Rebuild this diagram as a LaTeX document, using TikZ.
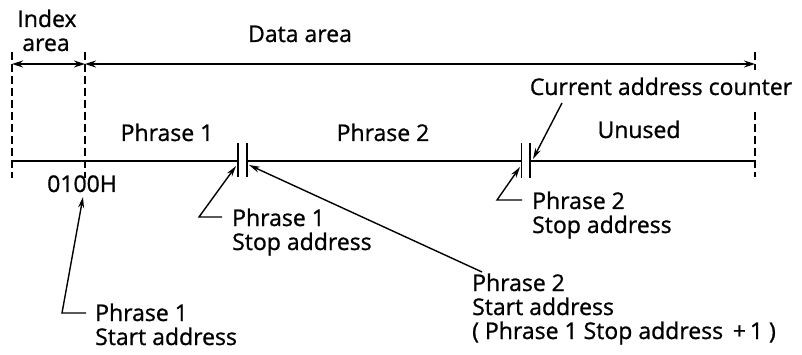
\documentclass[tikz,border=0pt]{standalone}
\usepackage{fontspec}
\setmainfont{Open Sans}[FakeBold=0.9]
\usetikzlibrary{arrows.meta}
\begin{document}
\begin{tikzpicture}[x=1pt,y=-1pt,
  lbl/.style={font=\fontsize{23}{24}\selectfont, inner sep=0pt, align=left},
  bound/.style={line width=1.8pt, dash pattern=on 8pt off 4pt},
  mainln/.style={line width=1.6pt},
  brk/.style={line width=1.8pt},
  dimarr/.style={line width=1.4pt, {Stealth[length=11pt,width=7pt]}-{Stealth[length=11pt,width=7pt]}},
  ptr/.style={line width=1.4pt, -{Stealth[length=11pt,width=6pt]}}
]
\useasboundingbox (0,0) rectangle (802,355);
% boundary dashed lines
\coordinate (b0t) at (12,52);  \coordinate (b0b) at (12,178);
\coordinate (b1t) at (85,52);  \coordinate (b1b) at (85,178);
\coordinate (b2t) at (755,52); \coordinate (b2m) at (755,70);
\coordinate (b2n) at (755,112); \coordinate (b2b) at (755,177);
\draw[bound] (b0t) -- (b0b);
\draw[bound] (b1t) -- (b1b);
\draw[bound] (b2t) -- (b2m);
\draw[bound] (b2n) -- (b2b);
% dimension arrows
\coordinate (d0) at (12,64); \coordinate (d1) at (85,64); \coordinate (d2) at (755,64);
\draw[dimarr] (d0) -- (d1);
\draw[dimarr] (d1) -- (d2);
% main line with breaks
\coordinate (m0) at (12,161);
\coordinate (k1a) at (238,161); \coordinate (k1b) at (247,161);
\coordinate (k2a) at (521.5,161); \coordinate (k2b) at (530,161);
\coordinate (m3) at (755,161);
\draw[mainln] (m0) -- (k1a);
\draw[mainln] (k1b) -- (k2a);
\draw[mainln] (k2b) -- (m3);
\draw[brk] (238,143) -- (238,177);
\draw[brk] (247,143) -- (247,177);
\draw[brk] (521.5,143) -- (521.5,178);
\draw[brk] (530,143) -- (530,178);
% labels
\node[lbl, anchor=base] (idx) at (47,27) {Index};
\node[lbl, anchor=base] (idxa) at (46,51) {area};
\node[lbl, anchor=base] (data) at (300,42) {Data area};
\node[lbl, anchor=base] (p1) at (167,141) {Phrase 1};
\node[lbl, anchor=base] (p2) at (383,141) {Phrase 2};
\node[lbl, anchor=base] (un) at (639,138) {Unused};
\node[lbl, anchor=base] (cac) at (661,95) {Current address counter};
\node[lbl, anchor=base] (addr) at (82,192) {0100H};
% multi-line labels: base anchor is the baseline of the last line
\node[lbl, anchor=base west] (p1start) at (95,345) {Phrase 1\\Start address};
\node[lbl, anchor=base west] (p1stop) at (232,250) {Phrase 1\\Stop address};
\node[lbl, anchor=base west] (p2stop) at (532,233) {Phrase 2\\Stop address};
\node[lbl, anchor=base west] (p2start) at (472,339) {Phrase 2\\Start address\\( Phrase 1 Stop address \,+\,1 )};
% pointers
\coordinate (t1) at (86,313); \coordinate (c1) at (62,313);
\draw[ptr] (t1) -- (c1) -- (83,197);
\coordinate (t2) at (222,217); \coordinate (c2) at (199,217);
\draw[ptr] (t2) -- (c2) -- (236,166);
\coordinate (c3) at (482,272);
\draw[ptr] (c3) -- (249,165);
\coordinate (t4) at (522,200); \coordinate (c4) at (497,200);
\draw[ptr] (t4) -- (c4) -- (520,167);
\coordinate (c5) at (562,103);
\draw[ptr] (c5) -- (533,159);
\end{tikzpicture}
\end{document}
